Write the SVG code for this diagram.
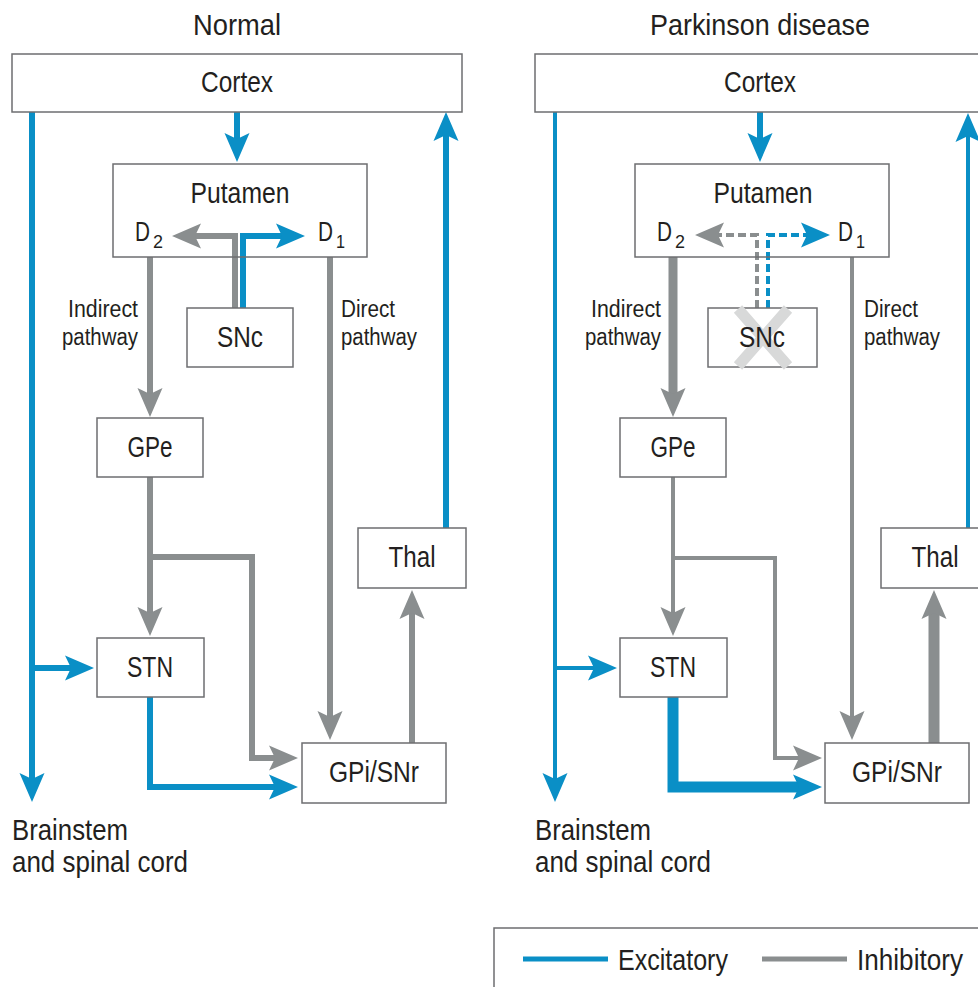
<svg xmlns="http://www.w3.org/2000/svg" width="978" height="987" viewBox="0 0 978 987">
<style>
text{font-family:"Liberation Sans",Arial,sans-serif;fill:#231f20}
.t{font-size:29px;text-anchor:middle}
.n{font-size:29px;text-anchor:middle}
.d{font-size:28px}
.s{font-size:19px}
.p{font-size:23px}
.b{font-size:29px}
.box{fill:#fff;stroke:#6d6e70;stroke-width:1.5}
.ln{fill:none;stroke-linejoin:miter}
.ex{stroke:#0a8fc6}
.in{stroke:#8a8e8f}
.w6{stroke-width:6}
.w4{stroke-width:4}
.w9{stroke-width:9}
.w11{stroke-width:11}
.dash{stroke-dasharray:8 4}
.ea{marker-end:url(#ae)}
.ia{marker-end:url(#ai)}
</style>
<defs>
<marker id="ae" markerUnits="userSpaceOnUse" markerWidth="30" markerHeight="26" viewBox="0 -13 30 26" refX="6" refY="0" orient="auto">
<path d="M0,-12.5 L29,0 L0,12.5 L6,0 Z" fill="#0a8fc6"/>
</marker>
<marker id="ai" markerUnits="userSpaceOnUse" markerWidth="30" markerHeight="26" viewBox="0 -13 30 26" refX="6" refY="0" orient="auto">
<path d="M0,-12.5 L29,0 L0,12.5 L6,0 Z" fill="#8a8e8f"/>
</marker>
</defs>
<rect width="978" height="987" fill="#fff"/>

<text class="t" x="237" y="35" textLength="88" lengthAdjust="spacingAndGlyphs">Normal</text>
<text class="t" x="760" y="35" textLength="220" lengthAdjust="spacingAndGlyphs">Parkinson disease</text>

<g id="connectors">
<!-- Left panel -->
<path class="ln ex w6 ea" d="M32,112 V779"/>
<path class="ln ex w6 ea" d="M32,668 H71"/>
<path class="ln ex w6 ea" d="M237,112 V139"/>
<path class="ln in w6 ia" d="M235,308 V236 H195"/>
<path class="ln ex w6 ea" d="M243,308 V236 H282"/>
<path class="ln in w6 ia" d="M150,257 V394"/>
<path class="ln in w6 ia" d="M330,257 V717"/>
<path class="ln in w6 ia" d="M150,477 V613"/>
<path class="ln in w6 ia" d="M150,557 H252 V758 H275"/>
<path class="ln ex w6 ea" d="M150,697 V787 H275"/>
<path class="ln in w6 ia" d="M412,743 V613"/>
<path class="ln ex w6 ea" d="M446,528 V135"/>
<!-- Right panel -->
<path class="ln ex w4 ea" d="M555,112 V779"/>
<path class="ln ex w4 ea" d="M555,668 H594"/>
<path class="ln ex w6 ea" d="M760,112 V139"/>
<path class="ln in w4 dash ia" d="M757,308 V235 H718"/>
<path class="ln ex w4 dash ea" d="M768,308 V235 H807"/>
<path class="ln in w9 ia" d="M673,257 V394"/>
<path class="ln in w4 ia" d="M852,257 V717"/>
<path class="ln in w4 ia" d="M673,477 V613"/>
<path class="ln in w4 ia" d="M673,558 H775 V758 H799"/>
<path class="ln ex w11 ea" d="M673,697 V787 H799"/>
<path class="ln in w11 ia" d="M934,743 V613"/>
<path class="ln ex w4 ea" d="M968,528 V136"/>
</g>

<!-- Left panel nodes -->
<g id="cortex-n"><rect class="box" x="12" y="54" width="450" height="58"/><text class="n" x="237" y="92" textLength="72" lengthAdjust="spacingAndGlyphs">Cortex</text></g>
<g id="putamen-n"><rect class="box" x="113" y="164" width="254" height="93" fill-opacity="0"/><text class="n" x="240" y="203" textLength="99" lengthAdjust="spacingAndGlyphs">Putamen</text>
<text class="d" x="135" y="241" textLength="15" lengthAdjust="spacingAndGlyphs">D</text><text class="s" x="153" y="248" textLength="10" lengthAdjust="spacingAndGlyphs">2</text>
<text class="d" x="318" y="241" textLength="15" lengthAdjust="spacingAndGlyphs">D</text><text class="s" x="336" y="248" textLength="9" lengthAdjust="spacingAndGlyphs">1</text></g>
<g id="snc-n"><rect class="box" x="187" y="308" width="106" height="59"/><text class="n" x="240" y="347" textLength="46" lengthAdjust="spacingAndGlyphs">SNc</text></g>
<g id="gpe-n"><rect class="box" x="97" y="418" width="106" height="59"/><text class="n" x="150" y="457" textLength="45" lengthAdjust="spacingAndGlyphs">GPe</text></g>
<g id="stn-n"><rect class="box" x="97" y="638" width="107" height="59"/><text class="n" x="150" y="677" textLength="46" lengthAdjust="spacingAndGlyphs">STN</text></g>
<g id="thal-n"><rect class="box" x="358" y="528" width="108" height="60"/><text class="n" x="412" y="567" textLength="47" lengthAdjust="spacingAndGlyphs">Thal</text></g>
<g id="gpi-n"><rect class="box" x="302" y="743" width="144" height="60"/><text class="n" x="374" y="782" textLength="90" lengthAdjust="spacingAndGlyphs">GPi/SNr</text></g>
<g id="labels-n">
<text class="p" x="138" y="317" text-anchor="end" textLength="70" lengthAdjust="spacingAndGlyphs">Indirect</text>
<text class="p" x="138" y="345" text-anchor="end" textLength="76" lengthAdjust="spacingAndGlyphs">pathway</text>
<text class="p" x="341" y="317" textLength="54" lengthAdjust="spacingAndGlyphs">Direct</text>
<text class="p" x="341" y="345" textLength="76" lengthAdjust="spacingAndGlyphs">pathway</text>
<text class="b" x="12" y="840" textLength="116" lengthAdjust="spacingAndGlyphs">Brainstem</text>
<text class="b" x="12" y="872" textLength="176" lengthAdjust="spacingAndGlyphs">and spinal cord</text>
</g>

<!-- Right panel nodes -->
<g id="cortex-p"><rect class="box" x="535" y="54" width="450" height="58"/><text class="n" x="760" y="92" textLength="72" lengthAdjust="spacingAndGlyphs">Cortex</text></g>
<g id="putamen-p"><rect class="box" x="635" y="164" width="254" height="93" fill-opacity="0"/><text class="n" x="763" y="203" textLength="99" lengthAdjust="spacingAndGlyphs">Putamen</text>
<text class="d" x="657" y="241" textLength="15" lengthAdjust="spacingAndGlyphs">D</text><text class="s" x="675" y="248" textLength="10" lengthAdjust="spacingAndGlyphs">2</text>
<text class="d" x="838" y="241" textLength="15" lengthAdjust="spacingAndGlyphs">D</text><text class="s" x="856" y="248" textLength="9" lengthAdjust="spacingAndGlyphs">1</text></g>
<g id="snc-p"><rect class="box" x="708" y="308" width="109" height="59"/>
<path d="M738,309 L788,366 M788,309 L738,366" stroke="#d8d9d9" stroke-width="11" fill="none"/>
<text class="n" x="762" y="347" textLength="46" lengthAdjust="spacingAndGlyphs">SNc</text></g>
<g id="gpe-p"><rect class="box" x="620" y="418" width="106" height="59"/><text class="n" x="673" y="457" textLength="45" lengthAdjust="spacingAndGlyphs">GPe</text></g>
<g id="stn-p"><rect class="box" x="620" y="638" width="107" height="59"/><text class="n" x="673" y="677" textLength="46" lengthAdjust="spacingAndGlyphs">STN</text></g>
<g id="thal-p"><rect class="box" x="881" y="528" width="108" height="60"/><text class="n" x="935" y="567" textLength="47" lengthAdjust="spacingAndGlyphs">Thal</text></g>
<g id="gpi-p"><rect class="box" x="825" y="743" width="144" height="60"/><text class="n" x="897" y="782" textLength="90" lengthAdjust="spacingAndGlyphs">GPi/SNr</text></g>
<g id="labels-p">
<text class="p" x="661" y="317" text-anchor="end" textLength="70" lengthAdjust="spacingAndGlyphs">Indirect</text>
<text class="p" x="661" y="345" text-anchor="end" textLength="76" lengthAdjust="spacingAndGlyphs">pathway</text>
<text class="p" x="864" y="317" textLength="54" lengthAdjust="spacingAndGlyphs">Direct</text>
<text class="p" x="864" y="345" textLength="76" lengthAdjust="spacingAndGlyphs">pathway</text>
<text class="b" x="535" y="840" textLength="116" lengthAdjust="spacingAndGlyphs">Brainstem</text>
<text class="b" x="535" y="872" textLength="176" lengthAdjust="spacingAndGlyphs">and spinal cord</text>
</g>

<g id="legend">
<rect class="box" x="494" y="928" width="500" height="70"/>
<line x1="523" y1="959" x2="608" y2="959" stroke="#0a8fc6" stroke-width="5"/>
<text class="b" x="618" y="970" textLength="110" lengthAdjust="spacingAndGlyphs">Excitatory</text>
<line x1="762" y1="959" x2="847" y2="959" stroke="#8a8e8f" stroke-width="5"/>
<text class="b" x="857" y="970" textLength="106" lengthAdjust="spacingAndGlyphs">Inhibitory</text>
</g>
</svg>
